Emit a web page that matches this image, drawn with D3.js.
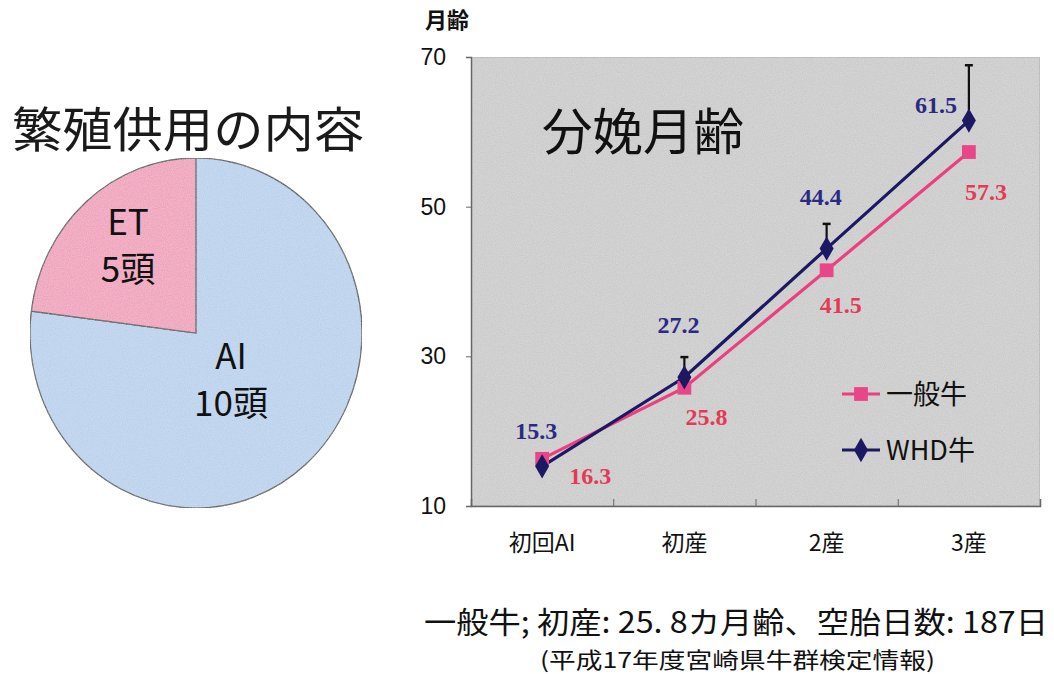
<!DOCTYPE html>
<meta charset="utf-8">
<script src="https://d3js.org/d3.v7.min.js"></script>
<style>
  body { margin: 0; background: #fff; }
  text { font-family: "Noto Sans CJK JP", "Liberation Sans", sans-serif; }
</style>
<div id="chart"></div>
<script>

// ---- data ----
var pieLabels = ["AI", "ET"];
var pieCounts = [10, 5];
var pieShares = [77, 23];          // slice sizes as drawn in the figure

var categories = ["初回AI", "初産", "2産", "3産"];
var seriesNames = ["一般牛", "WHD牛"];
var ippanValues = [16.3, 25.8, 41.5, 57.3];
var whdValues = [15.3, 27.2, 44.4, 61.5];
var whdErrors = [0, 2.7, 3.3, 7.4];
var yTicks = [10, 30, 50, 70];

var svg = d3.select("#chart").append("svg")
    .attr("width", 1054)
    .attr("height", 674);

var defs = svg.append("defs");
var noise = defs.append("filter").attr("id", "grain")
    .attr("x", 0).attr("y", 0).attr("width", 1).attr("height", 1);
noise.append("feTurbulence").attr("type", "fractalNoise")
    .attr("baseFrequency", 0.9).attr("numOctaves", 2).attr("seed", 3).attr("result", "n");
noise.append("feColorMatrix").attr("in", "n").attr("type", "matrix")
    .attr("values", "0 0 0 0 1  0 0 0 0 1  0 0 0 0 1  0 0 0 0.3 0").attr("result", "na");
noise.append("feComposite").attr("in", "na").attr("in2", "SourceGraphic").attr("operator", "in").attr("result", "nc");
noise.append("feMerge").selectAll("feMergeNode").data(["SourceGraphic", "nc"]).enter()
    .append("feMergeNode").attr("in", function(d) { return d; });

// ---- pie ----
var pieG = svg.append("g").attr("transform", "translate(196,333)");

svg.append("text")
    .attr("x", 12).attr("y", 147)
    .attr("textLength", 352)
    .attr("lengthAdjust", "spacingAndGlyphs")
    .style("font-size", "48px")
    .attr("fill", "#1a1a1a")
    .text("繁殖供用の内容");

var rx = 166, ry = 175;
var pie = d3.pie().sort(null).value(function(d) { return d; });
var arc = d3.arc().innerRadius(0).outerRadius(ry);
var pieColors = ["#b4cdeb", "#ee98b5"];

pieG.append("g")
    .attr("transform", "scale(" + (rx / ry) + ",1)")
  .selectAll("path")
  .data(pie(pieShares))
  .enter().append("path")
    .attr("d", arc)
    .attr("fill", function(d, i) { return pieColors[i]; })
    .attr("filter", "url(#grain)")
    .attr("stroke", "#333")
    .attr("stroke-width", 1.2)
    .attr("vector-effect", "non-scaling-stroke");

// slice labels
var pieLabelPos = [[35, 24], [-68, -110]];
pieLabels.forEach(function(lab, i) {
  var t = pieG.append("text")
      .attr("text-anchor", "middle")
      .attr("fill", "#111")
      .style("font-family", "'Liberation Sans Narrow', 'Noto Sans CJK JP', sans-serif")
      .style("font-size", "35px");
  t.append("tspan").attr("x", pieLabelPos[i][0]).attr("y", pieLabelPos[i][1] + 12).text(lab);
  t.append("tspan").attr("x", pieLabelPos[i][0]).attr("y", pieLabelPos[i][1] + 59).text(pieCounts[i] + "頭");
});

// ---- line chart ----
var plot = {left: 471, top: 57, right: 1040, bottom: 506};

var x = d3.scaleBand()
    .domain(categories)
    .range([plot.left, plot.right]);

var y = d3.scaleLinear()
    .domain([10, 70])
    .range([plot.bottom, plot.top]);

var cx = function(c) { return x(c) + x.bandwidth() / 2; };

svg.append("rect")
    .attr("x", plot.left).attr("y", plot.top)
    .attr("width", plot.right - plot.left)
    .attr("height", plot.bottom - plot.top)
    .attr("fill", "#c6c6c6")
    .attr("filter", "url(#grain)")
    .attr("stroke", "#9a9a9a")
    .attr("stroke-width", 1);

// y axis
svg.append("g")
    .attr("transform", "translate(" + plot.left + ",0)")
    .call(d3.axisLeft(y).tickValues(yTicks).tickSize(5).tickPadding(20))
    .call(function(g) {
      g.select(".domain").attr("stroke", "#666").attr("stroke-width", 1.5);
      g.selectAll(".tick line").attr("stroke", "#666");
      g.selectAll(".tick text")
        .attr("fill", "#111")
        .style("font-family", "'Liberation Sans', sans-serif")
        .style("font-size", "23px");
    });

svg.append("text")
    .attr("x", 425).attr("y", 28)
    .style("font-size", "22px")
    .style("font-weight", "bold")
    .attr("fill", "#111")
    .text("月齢");

// x axis: ticks at band boundaries, pointing up
var xBoundaries = categories.slice(1).map(function(c) { return x(c); });
svg.append("g")
    .attr("transform", "translate(0," + plot.bottom + ")")
    .call(d3.axisBottom(d3.scaleLinear().domain([plot.left, plot.right]).range([plot.left, plot.right]))
      .tickValues(xBoundaries).tickSize(-7).tickFormat(""))
    .call(function(g) {
      g.select(".domain").attr("stroke", "#666").attr("stroke-width", 1.5);
      g.selectAll(".tick line").attr("stroke", "#666");
    });

svg.append("g").selectAll("text")
  .data(categories)
  .enter().append("text")
    .attr("x", function(d) { return cx(d); })
    .attr("y", 551)
    .attr("text-anchor", "middle")
    .attr("fill", "#111")
    .style("font-size", "23px")
    .text(function(d) { return d; });

// chart title
svg.append("text")
    .attr("x", 542).attr("y", 150)
    .attr("textLength", 202)
    .attr("lengthAdjust", "spacingAndGlyphs")
    .style("font-size", "50px")
    .attr("fill", "#111")
    .text("分娩月齢");

// error bars (WHD, upward only)
var errG = svg.append("g");
categories.forEach(function(c, i) {
  if (!whdErrors[i]) return;
  var top = y(whdValues[i] + whdErrors[i]);
  errG.append("line")
      .attr("x1", cx(c)).attr("x2", cx(c))
      .attr("y1", y(whdValues[i])).attr("y2", top)
      .attr("stroke", "#111").attr("stroke-width", 2.2);
  errG.append("line")
      .attr("x1", cx(c) - 4).attr("x2", cx(c) + 4)
      .attr("y1", top).attr("y2", top)
      .attr("stroke", "#111").attr("stroke-width", 2.5);
});

var navy = "#1d1862", pink = "#ec3f80";

var line = d3.line()
    .x(function(d, i) { return cx(categories[i]); })
    .y(function(d) { return y(d); });

svg.append("path").datum(ippanValues)
    .attr("d", line).attr("fill", "none")
    .attr("stroke", pink).attr("stroke-width", 3.2);
svg.append("path").datum(whdValues)
    .attr("d", line).attr("fill", "none")
    .attr("stroke", navy).attr("stroke-width", 3.2);

var square = d3.symbol().type(d3.symbolSquare).size(190);
var diamond = d3.symbol().type(d3.symbolDiamond).size(170);

svg.append("g").selectAll("path")
  .data(ippanValues)
  .enter().append("path")
    .attr("d", square)
    .attr("transform", function(d, i) { return "translate(" + cx(categories[i]) + "," + y(d) + ")"; })
    .attr("fill", "#e9468a");

svg.append("g").selectAll("path")
  .data(whdValues)
  .enter().append("path")
    .attr("d", diamond)
    .attr("transform", function(d, i) { return "translate(" + cx(categories[i]) + "," + y(d) + ")"; })
    .attr("fill", navy);

// value labels
var ippanOffsets = [[48, 17], [22, 29], [14, 35], [17, 40]];
var whdOffsets = [[-6, -35], [-6, -52], [-6, -52], [-33, -16]];

function valueLabels(values, offsets, color) {
  svg.append("g").selectAll("text")
    .data(values)
    .enter().append("text")
      .attr("x", function(d, i) { return cx(categories[i]) + offsets[i][0]; })
      .attr("y", function(d, i) { return y(d) + offsets[i][1] + 8; })
      .attr("text-anchor", "middle")
      .attr("fill", color)
      .style("font-family", "'Liberation Serif', 'Times New Roman', serif")
      .style("font-weight", "bold")
      .style("font-size", "24px")
      .text(function(d) { return d.toFixed(1); });
}
valueLabels(ippanValues, ippanOffsets, "#e33a55");
valueLabels(whdValues, whdOffsets, "#2b2a82");

// legend
var legend = svg.append("g");
var legendRows = [
  {name: seriesNames[0], color: pink, mark: square, fill: "#e9468a", y: 394},
  {name: seriesNames[1], color: navy, mark: diamond, fill: navy, y: 450}
];
legendRows.forEach(function(r) {
  legend.append("line")
      .attr("x1", 842).attr("x2", 880)
      .attr("y1", r.y).attr("y2", r.y)
      .attr("stroke", r.color).attr("stroke-width", 3.2);
  legend.append("path")
      .attr("d", r.mark)
      .attr("transform", "translate(861," + r.y + ")")
      .attr("fill", r.fill);
  legend.append("text")
      .attr("x", 886).attr("y", r.y + 10)
      .attr("fill", "#111")
      .style("font-size", "27px")
      .text(r.name);
});

// footnote
svg.append("text")
    .attr("x", 424).attr("y", 633)
    .attr("textLength", 624)
    .attr("lengthAdjust", "spacingAndGlyphs")
    .style("font-size", "30px")
    .attr("fill", "#111")
    .text("一般牛; 初産: 25. 8カ月齢、空胎日数: 187日");

svg.append("text")
    .attr("x", 540).attr("y", 668)
    .attr("textLength", 395)
    .attr("lengthAdjust", "spacingAndGlyphs")
    .style("font-size", "22px")
    .attr("fill", "#111")
    .text("(平成17年度宮崎県牛群検定情報)");

</script>
